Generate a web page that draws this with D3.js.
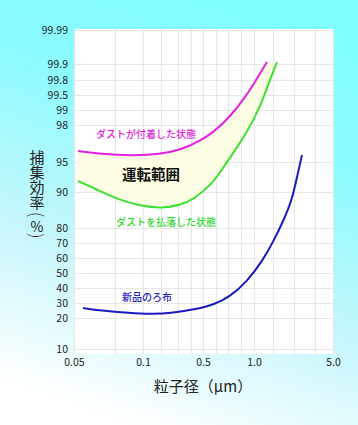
<!DOCTYPE html>
<html><head><meta charset="utf-8">
<script src="https://cdn.jsdelivr.net/npm/d3@7"></script>
<style>html,body{margin:0;padding:0;background:#fff}svg{display:block}</style>
</head><body>
<script>
// ---------- data ----------
const xGridValues = [0.05,0.08,0.1,0.2,0.3,0.4,0.5,0.6,0.7,0.8,1,2,3,4,5];
const xTickValues = [0.05,0.1,0.5,1,5];
const xTickLabels = ["0.05","0.1","0.5","1.0","5.0"];
const yTickValues = [10,20,30,40,50,60,70,80,90,95,98,99,99.5,99.8,99.9,99.99];
const yTickLabels = ["10","20","30","40","50","60","70","80","90","95","98","99","99.5","99.8","99.9","99.99"];

const dustAttachedX = [0.0529,0.069,0.0929,0.194,0.315,0.475,0.577,0.715,0.892,1.158,1.684];
const dustAttachedY = [95.89,95.65,95.51,95.62,95.97,96.70,97.39,98.53,99.5,99.81,99.905];
const dustRemovedX = [0.0529,0.069,0.0814,0.0979,0.2118,0.315,0.4167,0.577,0.658,0.892,1.316,1.737,2.19];
const dustRemovedY = [91.83,90.17,88.06,86.1,85.47,86.39,87.78,91.5,94,97.35,99.1,99.7,99.905];
const newClothX = [0.0566,0.069,0.0907,0.139,0.253,0.45,0.577,0.715,0.892,1.474,2,2.476,2.905,3.143,3.381];
const newClothY = [26.67,25,23.33,22.67,23,26,28.67,34.2,44.2,58.67,70.67,81.75,87.78,92.5,95.57];

// ---------- layout ----------
const W = 358, H = 425;
const plot = {left:74, right:333, top:29, bottom:354};
// non-uniform axis layout of the original chart
const xGridPx = [74,115,143,161,178,191,203,216,228,241,254,273,294,315,333];
const yTickPx = [349,318,303,288,273,258,243,228,192,162,125,110,95,80,64,30];

const x = d3.scaleLinear().domain(xGridValues).range(xGridPx);
const y = d3.scaleLinear().domain(yTickValues).range(yTickPx);

const svg = d3.select("body").append("svg").attr("width",W).attr("height",H);
const defs = svg.append("defs");
const grad = defs.append("linearGradient").attr("id","bg")
  .attr("x1","65%").attr("y1","0%").attr("x2","35%").attr("y2","100%");
[[0,"#80ffff"],[0.3,"#8efbff"],[0.65,"#c6f6fb"],[1,"#ffffff"]].forEach(s=>
  grad.append("stop").attr("offset",s[0]).attr("stop-color",s[1]));
svg.append("rect").attr("width",W).attr("height",H).attr("fill","url(#bg)");

svg.append("rect").attr("x",plot.left).attr("y",plot.top)
  .attr("width",plot.right-plot.left).attr("height",plot.bottom-plot.top).attr("fill","#fff");

// grid
const gx = svg.append("g").attr("transform",`translate(0,${plot.bottom})`)
  .call(d3.axisBottom(x).tickValues(xGridValues).tickSize(-(plot.bottom-plot.top)).tickFormat(""));
gx.select(".domain").remove();
gx.selectAll("line").attr("stroke","#e6e6e6");
const gy = svg.append("g").attr("transform",`translate(${plot.left},0)`)
  .call(d3.axisLeft(y).tickValues(yTickValues).tickSize(-(plot.right-plot.left)).tickFormat(""));
gy.select(".domain").remove();
gy.selectAll("line").attr("stroke","#e6e6e6");

const font = "'Noto Sans CJK JP','Noto Sans',sans-serif";

// axes labels
const ax = svg.append("g").attr("transform",`translate(0,${plot.bottom})`)
  .call(d3.axisBottom(x).tickValues(xTickValues).tickSize(0).tickPadding(5)
    .tickFormat((d,i)=>xTickLabels[i]));
ax.select(".domain").remove();
ax.selectAll("text").attr("font-family",font).attr("font-size",10.5).attr("fill","#222");

const ay = svg.append("g").attr("transform",`translate(${plot.left-6},0)`)
  .call(d3.axisLeft(y).tickValues(yTickValues).tickSize(0).tickPadding(0)
    .tickFormat((d,i)=>yTickLabels[i]));
ay.select(".domain").remove();
ay.selectAll("text").attr("font-family",font).attr("font-size",10.5).attr("fill","#222");

// curves
const zip = (xs,ys)=>xs.map((v,i)=>[v,ys[i]]);
const attached = zip(dustAttachedX,dustAttachedY);
const removed = zip(dustRemovedX,dustRemovedY);
const fresh = zip(newClothX,newClothY);
const line = d3.line().x(d=>x(d[0])).y(d=>y(d[1])).curve(d3.curveBasis);

const areaPath = line(attached) + "L" + line(removed.slice().reverse()).slice(1) + "Z";
svg.append("path").attr("d",areaPath).attr("fill","#fdfde4").attr("stroke","none");

svg.append("path").attr("d",line(attached)).attr("fill","none").attr("stroke","#e222e0").attr("stroke-width",2);
svg.append("path").attr("d",line(removed)).attr("fill","none").attr("stroke","#3ce030").attr("stroke-width",2);
svg.append("path").attr("d",line(fresh)).attr("fill","none").attr("stroke","#1a1abf").attr("stroke-width",2);

// annotations
svg.append("text").attr("x",96).attr("y",138).text("ダストが付着した状態")
  .attr("font-family",font).attr("font-size",10).attr("font-weight",500).attr("fill","#e222e0");
svg.append("text").attr("x",122).attr("y",180).text("運転範囲")
  .attr("font-family",font).attr("font-size",14.5).attr("font-weight",700).attr("fill","#111");
svg.append("text").attr("x",116).attr("y",226).text("ダストを払落した状態")
  .attr("font-family",font).attr("font-size",10).attr("font-weight",500).attr("fill","#30d830");
svg.append("text").attr("x",122).attr("y",301).text("新品のろ布")
  .attr("font-family",font).attr("font-size",10).attr("font-weight",500).attr("fill","#2424c0");

// axis titles
svg.append("text").attr("x",203).attr("y",392).attr("text-anchor","middle").text("粒子径（μm）")
  .attr("font-family",font).attr("font-size",15).attr("fill","#222");

const yTitle = [["捕",156,0,15,400],["集",171,0,15,400],["効",186,0,15,400],["率",201,0,15,400],["(",214.5,90,17,300],["%",225.5,0,14,400],[")",236,90,17,300]];
yTitle.forEach(([ch,cy,rot,fs,fw])=>{
  svg.append("text").attr("transform",`translate(37,${cy}) rotate(${rot})`)
    .attr("text-anchor","middle").attr("dominant-baseline","central")
    .attr("font-family",font).attr("font-size",fs).attr("font-weight",fw).attr("fill","#222").text(ch);
});
</script>
</body></html>
